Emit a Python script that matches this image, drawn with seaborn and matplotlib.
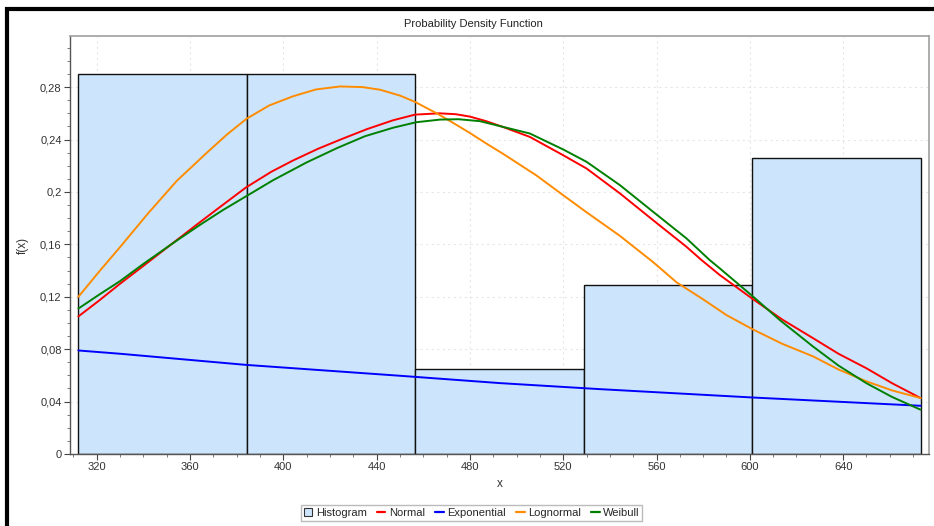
import matplotlib
matplotlib.use("Agg")
import matplotlib.pyplot as plt
import matplotlib.ticker as mticker
from matplotlib.lines import Line2D
from matplotlib.patches import Patch
import pandas as pd
import seaborn as sns

# ---------------- data ----------------
bin_edges = [312.2, 384.4, 456.6, 528.8, 601.0, 673.2]
bin_heights = [0.2903, 0.2903, 0.0645, 0.1290, 0.2258]

normal_x = [312.2, 321.0, 330.1, 340.0, 352.0, 364.0, 374.0, 384.1, 395.0, 404.2,
            415.0, 425.7, 436.0, 447.1, 456.5, 467.0, 474.0, 480.0, 487.0, 494.3,
            505.7, 520.0, 530.0, 544.3, 558.5, 572.8, 579.3, 587.1, 601.4, 614.0,
            627.1, 638.0, 649.9, 661.0, 673.2]
normal_y = [0.105, 0.117, 0.130, 0.1435, 0.160, 0.1765, 0.190, 0.2035, 0.2155, 0.224,
            0.2330, 0.2408, 0.2480, 0.2547, 0.2590, 0.2600, 0.2593, 0.2575, 0.2540, 0.2495,
            0.2420, 0.2280, 0.2179, 0.1989, 0.1785, 0.1582, 0.1480, 0.1366, 0.1181, 0.1025,
            0.0884, 0.0765, 0.0655, 0.0540, 0.0427]

weibull_x = [312.2, 321.0, 330.1, 340.0, 352.0, 364.0, 374.0, 384.1, 395.7, 410.0,
             423.1, 435.0, 447.1, 457.0, 467.2, 475.0, 484.3, 494.3, 505.7, 520.0,
             530.0, 544.3, 558.5, 572.8, 582.8, 587.1, 601.4, 612.8, 627.1, 638.0,
             649.9, 661.0, 673.2]
weibull_y = [0.111, 0.1215, 0.132, 0.145, 0.160, 0.1745, 0.186, 0.1967, 0.209, 0.2225,
             0.2335, 0.2425, 0.2490, 0.2532, 0.2552, 0.2555, 0.2540, 0.2496, 0.2446, 0.2324,
             0.2230, 0.2052, 0.1849, 0.1646, 0.1480, 0.1417, 0.1201, 0.1023, 0.0820, 0.0675,
             0.0541, 0.0435, 0.0338]

lognormal_x = [312.2, 321.0, 330.1, 342.0, 354.4, 367.3, 376.0, 384.4, 394.0, 404.2,
               414.0, 424.4, 434.0, 441.5, 450.1, 456.5, 466.3, 473.0, 480.0, 487.0,
               494.3, 508.6, 520.0, 530.0, 544.3, 558.5, 568.6, 580.0, 590.0, 601.4,
               614.0, 627.1, 638.0, 649.9, 661.0, 673.2]
lognormal_y = [0.120, 0.139, 0.158, 0.1835, 0.2085, 0.2300, 0.2440, 0.2560, 0.2660, 0.2730,
               0.2782, 0.2805, 0.2800, 0.2780, 0.2735, 0.2687, 0.2595, 0.2525, 0.2450, 0.2370,
               0.2290, 0.2125, 0.1975, 0.1845, 0.1665, 0.1465, 0.1310, 0.1180, 0.1060, 0.0950,
               0.0840, 0.0745, 0.0645, 0.0555, 0.0485, 0.0427]

expon_x = [312.2, 330.1, 384.1, 450.1, 492.9, 535.7, 601.4, 673.2]
expon_y = [0.0790, 0.0765, 0.0680, 0.0597, 0.0541, 0.0495, 0.0431, 0.0368]

x_ticks = [320, 360, 400, 440, 480, 520, 560, 600, 640]
y_ticks = [0, 0.04, 0.08, 0.12, 0.16, 0.2, 0.24, 0.28]

title = "Probability Density Function"
legend_labels = ["Histogram", "Normal", "Exponential", "Lognormal", "Weibull"]

# ---------------- style ----------------
sns.set_theme(style="white")
plt.rcParams["font.family"] = ["Liberation Sans", "DejaVu Sans"]
plt.rcParams["font.size"] = 8

hist_color = "#cce5fc"
c_normal = "#ff0000"
c_expon = "#0000ff"
c_logn = "#ff8c00"
c_weib = "#008000"

fig = plt.figure(figsize=(9.34, 5.26), dpi=100)
ax = fig.add_axes([70 / 934, 1 - 454 / 526, 859 / 934, 418 / 526])
ax.set_facecolor("white")

centers = [(a + b) / 2 for a, b in zip(bin_edges[:-1], bin_edges[1:])]
sns.histplot(x=centers, weights=bin_heights, bins=bin_edges, stat="count",
             color=hist_color, edgecolor="#111111", linewidth=1.0, alpha=1.0, ax=ax)

lw = 1.4
for xs, ys, col in [(normal_x, normal_y, c_normal), (expon_x, expon_y, c_expon),
                    (lognormal_x, lognormal_y, c_logn), (weibull_x, weibull_y, c_weib)]:
    df = pd.DataFrame({"x": xs, "y": ys})
    sns.lineplot(data=df, x="x", y="y", color=col, linewidth=lw, estimator=None,
                 sort=False, ax=ax)

ax.set_xlim(308.6, 676.8)
ax.set_ylim(0, 0.319)
ax.set_xticks(x_ticks)
ax.set_yticks(y_ticks)
ax.xaxis.set_minor_locator(mticker.MultipleLocator(10))
ax.yaxis.set_minor_locator(mticker.MultipleLocator(0.01))
ax.yaxis.set_major_formatter(mticker.FuncFormatter(lambda v, p: ("%g" % round(v, 4)).replace(".", ",")))
ax.tick_params(axis="both", which="major", direction="out", length=4, width=0.8,
               color="#444444", labelsize=8, labelcolor="#333333", pad=2,
               left=True, bottom=True)
ax.tick_params(axis="both", which="minor", direction="out", length=2, width=0.6,
               color="#666666", left=True, bottom=True)

ax.set_axisbelow(True)
ax.grid(True, which="major", color="#e6e6e6", linestyle=(0, (2, 3)), linewidth=0.8)

for side in ["left", "bottom"]:
    ax.spines[side].set_color("#555555")
    ax.spines[side].set_linewidth(1.0)
for side in ["top", "right"]:
    ax.spines[side].set_color("#a0a0a0")
    ax.spines[side].set_linewidth(1.2)
    ax.spines[side].set_visible(True)

ax.set_xlabel("x", fontsize=8.5, color="#333333")
ax.set_ylabel("f(x)", fontsize=8.5, color="#333333")
ax.xaxis.set_label_coords(0.5, -0.057)
ax.yaxis.set_label_coords(-0.048, 0.5)

fig.text(473 / 934, 1 - 24 / 526, title, ha="center", va="center", fontsize=8,
         color="#222222")

handles = [Patch(facecolor=hist_color, edgecolor="#333333", linewidth=0.8),
           Line2D([], [], color=c_normal, linewidth=1.6),
           Line2D([], [], color=c_expon, linewidth=1.6),
           Line2D([], [], color=c_logn, linewidth=1.6),
           Line2D([], [], color=c_weib, linewidth=1.6)]
leg = fig.legend(handles, legend_labels, loc="center", bbox_to_anchor=(471.5 / 934, 1 - 513 / 526),
                 ncol=5, fontsize=8, frameon=True, fancybox=False, handlelength=0.8,
                 handletextpad=0.3, columnspacing=0.9, borderpad=0.25, handleheight=0.8)
leg.get_frame().set_edgecolor("#aaaaaa")
leg.get_frame().set_linewidth(1.0)

# outer black frame (top and left)
fig.add_artist(Line2D([5 / 934, 1.0], [1 - 9 / 526, 1 - 9 / 526], transform=fig.transFigure,
                      color="black", linewidth=3.0, solid_capstyle="butt"))
fig.add_artist(Line2D([7 / 934, 7 / 934], [0.0, 1 - 7 / 526], transform=fig.transFigure,
                      color="black", linewidth=3.0, solid_capstyle="butt"))

fig.savefig("out.png", dpi=100, facecolor="white")
